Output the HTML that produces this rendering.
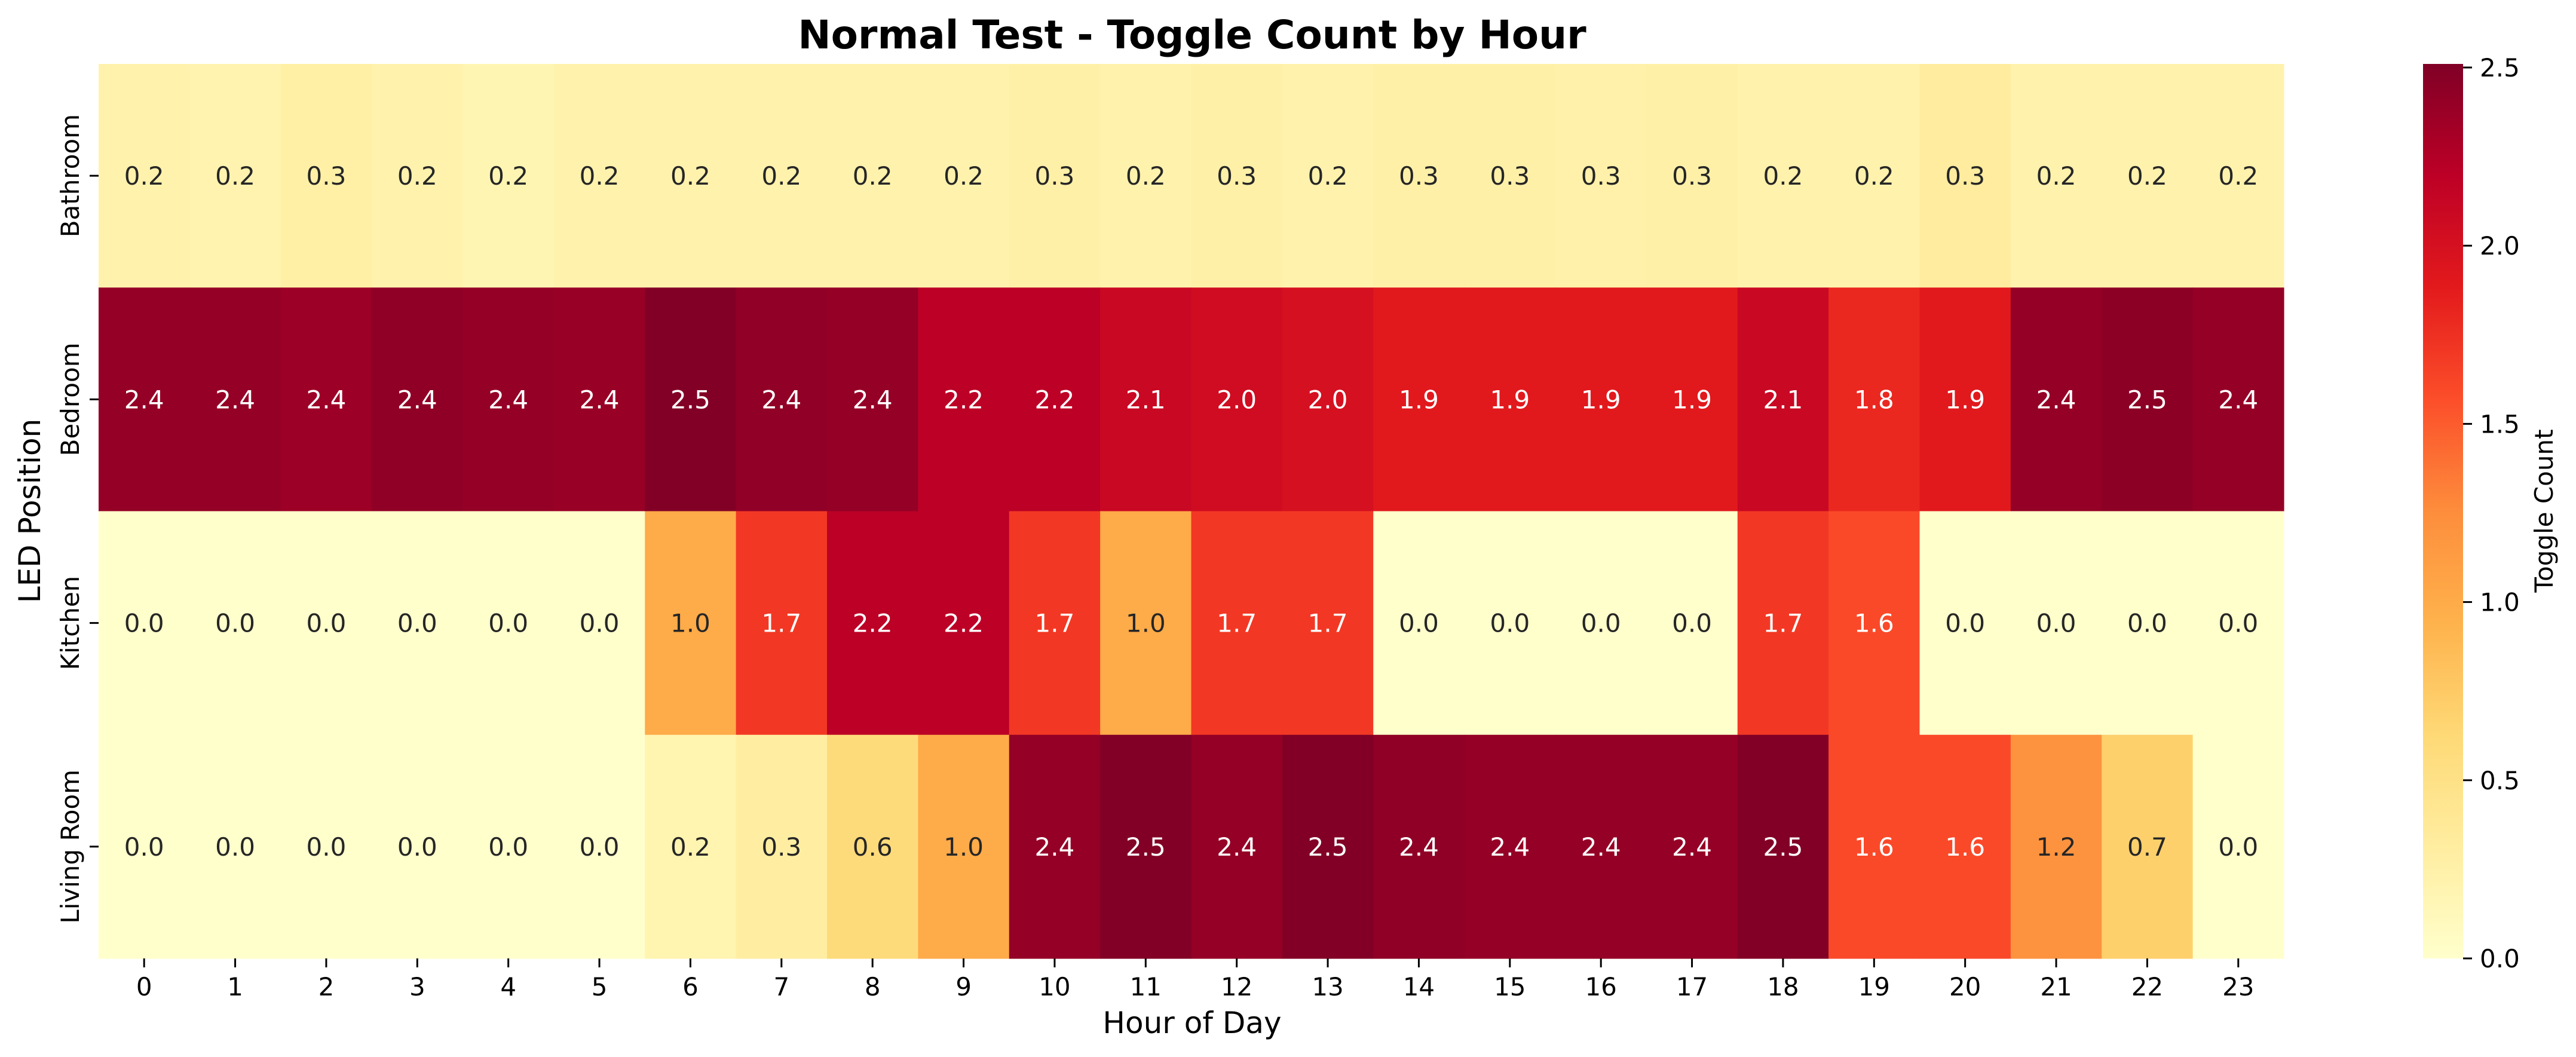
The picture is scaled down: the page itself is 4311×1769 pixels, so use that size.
<!DOCTYPE html>
<html><head><meta charset="utf-8"><style>
html,body{margin:0;padding:0;background:#fff;}
svg{display:block;font-family:"DejaVu Sans","Liberation Sans",sans-serif;}
</style></head><body>
<svg id="chart" width="4311" height="1769" viewBox="0 0 4311 1769" xmlns="http://www.w3.org/2000/svg">
<text x="1995" y="81" text-anchor="middle" font-size="66" font-weight="bold">Normal Test - Toggle Count by Hour</text>
<text x="1995" y="1729" text-anchor="middle" font-size="50">Hour of Day</text>
<text transform="translate(67,855) rotate(-90)" text-anchor="middle" font-size="50">LED Position</text>
<text transform="translate(4272,855) rotate(-90)" text-anchor="middle" font-size="42">Toggle Count</text>
<g id="cells"></g>
<g id="axes"></g>
<defs><linearGradient id="cbgrad" x1="0" y1="1" x2="0" y2="0"></linearGradient></defs>
<rect x="4055" y="107" width="67" height="1497" fill="url(#cbgrad)"/>
<g id="cbaxis"></g>
</svg>
<script>
const rows = ["Bathroom","Bedroom","Kitchen","Living Room"];
const hours = ["0","1","2","3","4","5","6","7","8","9","10","11","12","13","14","15","16","17","18","19","20","21","22","23"];
const bathroom = [0.22,0.21,0.27,0.22,0.18,0.22,0.22,0.22,0.22,0.22,0.26,0.22,0.26,0.22,0.26,0.26,0.25,0.26,0.22,0.22,0.33,0.22,0.22,0.22];
const bedroom = [2.4,2.4,2.36,2.43,2.4,2.38,2.5,2.42,2.4,2.2,2.2,2.1,2.05,2.0,1.9,1.9,1.9,1.9,2.1,1.8,1.9,2.4,2.45,2.4];
const kitchen = [0,0,0,0,0,0,1.0,1.7,2.2,2.2,1.7,1.0,1.7,1.7,0,0,0,0,1.7,1.6,0,0,0,0];
const livingRoom = [0,0,0,0,0,0,0.2,0.3,0.6,1.0,2.4,2.5,2.4,2.5,2.43,2.4,2.4,2.4,2.5,1.6,1.6,1.2,0.7,0.0];
const values = [bathroom, bedroom, kitchen, livingRoom];
const cbTicks = [0.0,0.5,1.0,1.5,2.0,2.5];

const NS="http://www.w3.org/2000/svg";
const X0=165,X1=3822,Y0=107,Y1=1604,VMIN=0,VMAX=2.51,CBX=4055,CBW=67;
const cw=(X1-X0)/hours.length, rh=(Y1-Y0)/rows.length;
const xPos=i=>X0+i*cw, yPos=j=>Y0+j*rh;
const cbY=v=>Y1-(v-VMIN)/(VMAX-VMIN)*(Y1-Y0);
const stops=["#ffffcc","#ffeda0","#fed976","#feb24c","#fd8d3c","#fc4e2a","#e31a1c","#bd0026","#800026"];
function hex(h){return [1,3,5].map(k=>parseInt(h.substr(k,2),16));}
function color(v){let t=Math.max(0,Math.min(1,(v-VMIN)/(VMAX-VMIN)))*(stops.length-1);
 let i=Math.min(Math.floor(t),stops.length-2),f=t-i,a=hex(stops[i]),b=hex(stops[i+1]);
 return "rgb("+a.map((c,k)=>Math.round(c+(b[k]-c)*f)).join(",")+")";}
function mk(tag,attrs,parent,txt){const e=document.createElementNS(NS,tag);for(const k in attrs)e.setAttribute(k,attrs[k]);if(txt!==undefined)e.textContent=txt;parent.appendChild(e);return e;}
const cells=document.getElementById('cells'),axes=document.getElementById('axes'),cb=document.getElementById('cbaxis');
values.forEach((row,j)=>row.forEach((v,i)=>{
 const r=mk('rect',{x:xPos(i),y:yPos(j),width:cw+0.6,height:rh+0.6,fill:color(v)},cells);
 
 
 const t=mk('text',{x:xPos(i)+cw/2,y:yPos(j)+rh/2+15,'text-anchor':'middle','font-size':42,fill:v>1.4?'#ffffff':'#262626'},cells,v.toFixed(1));
 
 
}));
hours.forEach((h,i)=>{const x=xPos(i)+cw/2;
 const l=mk('line',{x1:x,x2:x,y1:Y1,y2:Y1+15,stroke:'#000','stroke-width':3},axes);
 
 
 const t=mk('text',{x:x,y:1666,'text-anchor':'middle','font-size':42},axes,h);
 
 
});
rows.forEach((r,j)=>{const y=yPos(j)+rh/2;
 const l=mk('line',{x1:X0-15,x2:X0,y1:y,y2:y,stroke:'#000','stroke-width':3},axes);
 
 
 const t=mk('text',{transform:'translate(132,'+y+') rotate(-90)','text-anchor':'middle','font-size':42},axes,r);
 
 
});
const g=document.getElementById('cbgrad');
stops.forEach((s,k)=>mk('stop',{offset:(k/(stops.length-1)*100)+'%','stop-color':s},g));
cbTicks.forEach(v=>{const y=cbY(v);
 const l=mk('line',{x1:CBX+CBW,x2:CBX+CBW+15,y1:y,y2:y,stroke:'#000','stroke-width':3},cb);
 
 
 const t=mk('text',{x:CBX+CBW+28,y:y+15,'font-size':42},cb,v.toFixed(1));
 
 
});
</script>
</body></html>
